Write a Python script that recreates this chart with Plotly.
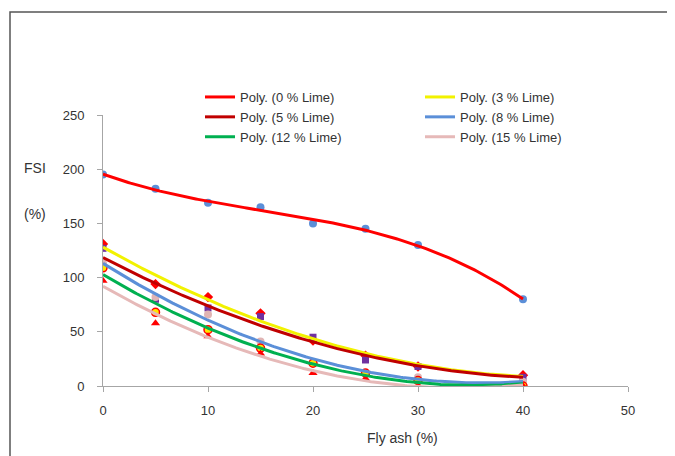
import numpy as np
import plotly.graph_objects as go

# ---- data ----
fly_ash = [0, 5, 10, 15, 20, 25, 30, 40]
fsi_lime0 = [195, 182, 169, 165, 150, 145, 130, 80]
fsi_lime3 = [131, 94, 82, 67, 42, 28, 18, 10]
fsi_lime5 = [127, 80, 72, 64, 45, 24, 18, 8]
fsi_lime8 = [113, 82, 66, 41, 22, 12, 8, 4]
fsi_lime12 = [109, 68, 52, 35, 21, 12, 5, 0]
fsi_lime15 = [97, 58, 46, 30, 12, 7, 0, 0]

series_names = ["Poly. (0 % Lime)", "Poly. (3 % Lime)", "Poly. (5 % Lime)",
                "Poly. (8 % Lime)", "Poly. (12 % Lime)", "Poly. (15 % Lime)"]
poly_order = [3, 2, 2, 2, 2, 2]
x_ticks = [0, 10, 20, 30, 40, 50]
y_ticks = [0, 50, 100, 150, 200, 250]

series = [fsi_lime0, fsi_lime3, fsi_lime5, fsi_lime8, fsi_lime12, fsi_lime15]
line_colors = ["#FF0000", "#F2F200", "#C00000", "#5B8FD8", "#00B050", "#E6B9B8"]
marker_styles = [
    dict(symbol="circle", size=8, color="#5B8FD8", line=dict(width=0)),
    dict(symbol="diamond", size=8, color="#FF0000", line=dict(width=0)),
    dict(symbol="square", size=7, color="#7030A0", line=dict(width=0)),
    dict(symbol="circle", size=8, color="#E0B4B4", line=dict(width=0)),
    dict(symbol="circle", size=8, color="#FFE600", line=dict(width=1.5, color="#FF0000")),
    dict(symbol="triangle-up", size=8, color="#FF0000", line=dict(width=0)),
]
legend_of = ["legend", "legend2", "legend", "legend2", "legend", "legend2"]

fig = go.Figure()

# markers
for ys, ms in zip(series, marker_styles):
    fig.add_trace(go.Scatter(x=fly_ash, y=ys, mode="markers", marker=ms,
                             showlegend=False, hoverinfo="skip"))

# polynomial trendlines (Excel "Poly.")
xs = np.linspace(0, 40, 200)
for ys, name, deg, col, lg in zip(series, series_names, poly_order, line_colors, legend_of):
    coef = np.polyfit(fly_ash, ys, deg)
    fig.add_trace(go.Scatter(x=xs, y=np.polyval(coef, xs), mode="lines", name=name,
                             line=dict(color=col, width=3), legend=lg))

OFF = 8  # page body margin
W, H = 675, 456
L, R, T, B = 103 - OFF, 628 - OFF, 115 - OFF, 386 - OFF


def px(xp):
    return (xp - OFF - L) / (R - L)


def py(yp):
    return (B - (yp - OFF)) / (B - T)


FONT = "Liberation Sans, Arial, sans-serif"
axis_font = dict(family=FONT, size=13, color="#333333")
leg_font = dict(family=FONT, size=13, color="#333333")

fig.update_layout(
    width=W, height=H,
    margin=dict(l=L, r=W - R, t=T, b=H - B),
    paper_bgcolor="white", plot_bgcolor="white",
    xaxis=dict(range=[0, 50], tickvals=x_ticks, showgrid=False, zeroline=False,
               showline=True, linecolor="#A6A6A6", linewidth=1,
               ticks="outside", ticklen=5, tickcolor="#A6A6A6",
               tickfont=axis_font, ticklabelstandoff=7),
    yaxis=dict(range=[0, 250], tickvals=y_ticks, showgrid=False, zeroline=False,
               showline=True, linecolor="#A6A6A6", linewidth=1,
               ticks="outside", ticklen=5, tickcolor="#A6A6A6",
               tickfont=axis_font, ticklabelstandoff=10),
    legend=dict(x=px(200), y=py(82), xanchor="left", yanchor="top",
                bgcolor="rgba(0,0,0,0)", borderwidth=0, font=leg_font,
                tracegroupgap=0),
    legend2=dict(x=px(420), y=py(82), xanchor="left", yanchor="top",
                 bgcolor="rgba(0,0,0,0)", borderwidth=0, font=leg_font,
                 tracegroupgap=0),
    showlegend=True,
)

# chart frame (screenshot edge)
fig.add_shape(type="rect", xref="paper", yref="paper",
              x0=px(10), x1=px(760), y0=py(520), y1=py(12),
              line=dict(color="#555555", width=1.5), fillcolor="rgba(0,0,0,0)",
              layer="below")

# axis titles
title_font = dict(family=FONT, size=14, color="#333333")
for txt, xx, yy in [("Fly ash (%)", 402, 438), ("FSI", 35, 168), ("(%)", 35, 214)]:
    fig.add_annotation(text=txt, xref="paper", yref="paper", x=px(xx), y=py(yy),
                       xanchor="center", yanchor="middle", showarrow=False,
                       font=title_font)

fig.write_html("out.html")
